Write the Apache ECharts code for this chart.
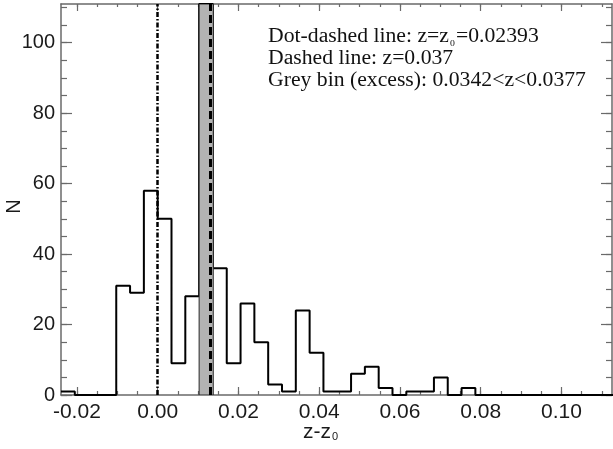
<!DOCTYPE html>
<html>
<head>
<meta charset="utf-8">
<script src="https://cdn.jsdelivr.net/npm/echarts@6/dist/echarts.min.js"></script>
<style>
  html, body { margin: 0; padding: 0; background: #fff; }
  #chart { width: 613px; height: 449px; }
</style>
</head>
<body>
<div id="chart"></div>
<script>
// Reference redshift and marked quantities
const z0 = 0.02393;
const dashedZ = 0.037;
const greyBinZ = [0.0342, 0.0377];

// Histogram: bins of width 0.00342 in z, starting at z = 0
const binStartZ = 0;
const binWidth = 0.00342;
const counts = [1, 0, 0, 0, 31, 29, 58, 50, 9, 28, 111, 36, 9, 26, 15, 3, 1, 24, 12, 1,
                1, 6, 8, 2, 0, 1, 1, 5, 0, 2, 0, 0, 0, 0, 0, 0, 0, 0, 0, 0];

// Axis extents and ticks
const xRange = [-0.02393, 0.1125];
const yRange = [0, 111];
const xMajorTicks = [-0.02, 0.00, 0.02, 0.04, 0.06, 0.08, 0.10];
const xMinorTicks = [-0.02, -0.015, -0.01, -0.005, 0.00, 0.005, 0.01, 0.015, 0.02, 0.025,
                     0.03, 0.035, 0.04, 0.045, 0.05, 0.055, 0.06, 0.065, 0.07, 0.075,
                     0.08, 0.085, 0.09, 0.095, 0.10, 0.105, 0.11];
const yMajorTicks = [0, 20, 40, 60, 80, 100];
const yMinorTicks = [0, 5, 10, 15, 20, 25, 30, 35, 40, 45, 50, 55, 60, 65, 70, 75, 80,
                     85, 90, 95, 100, 105, 110];

// Step outline of the histogram in z - z0
const stepPoints = [];
counts.forEach((c, k) => {
  const lo = binStartZ + k * binWidth - z0;
  const hi = lo + binWidth;
  stepPoints.push([lo, c], [hi, c]);
});
const greyLo = greyBinZ[0] - z0;
const greyHi = greyBinZ[1] - z0;

const frameColor = '#6a6a6a';
const sans = "'Liberation Sans', Arial, sans-serif";
const serif = "'Liberation Serif', 'Times New Roman', serif";

function xAxisOf(position, ticks, len, labels, line) {
  return {
    type: 'value', position, min: xRange[0], max: xRange[1],
    axisLine: { show: line, onZero: false, lineStyle: { color: frameColor, width: 1.5 } },
    axisTick: { show: true, inside: true, length: len, customValues: ticks,
                lineStyle: { color: frameColor, width: 1.2 } },
    axisLabel: { show: labels, customValues: ticks, margin: 7, fontSize: 21,
                 fontFamily: sans, color: '#1a1a1a', formatter: v => v.toFixed(2) },
    splitLine: { show: false }
  };
}
function yAxisOf(position, ticks, len, labels, line) {
  return {
    type: 'value', position, min: yRange[0], max: yRange[1],
    axisLine: { show: line, onZero: false, lineStyle: { color: frameColor, width: 1.5 } },
    axisTick: { show: true, inside: true, length: len, customValues: ticks,
                lineStyle: { color: frameColor, width: 1.2 } },
    axisLabel: { show: labels, customValues: ticks, margin: 6, fontSize: 20,
                 fontFamily: sans, color: '#1a1a1a', formatter: v => String(v) },
    splitLine: { show: false }
  };
}

const chart = echarts.init(document.getElementById('chart'), null, { renderer: 'canvas' });
chart.setOption({
  animation: false,
  backgroundColor: '#fff',
  grid: { left: 61, right: 1, top: 4, bottom: 54, containLabel: false },
  xAxis: [
    xAxisOf('bottom', xMajorTicks, 8, true, true),
    xAxisOf('bottom', xMinorTicks, 4, false, false),
    xAxisOf('top', xMajorTicks, 7, false, true),
    xAxisOf('top', xMinorTicks, 3, false, false)
  ],
  yAxis: [
    yAxisOf('left', yMajorTicks, 11, true, true),
    yAxisOf('left', yMinorTicks, 6, false, false),
    yAxisOf('right', yMajorTicks, 11, false, true),
    yAxisOf('right', yMinorTicks, 6, false, false)
  ],
  series: [
    {
      name: 'N', type: 'line', z: 2, silent: true,
      data: stepPoints, showSymbol: false,
      lineStyle: { color: '#000', width: 2 },
      markLine: {
        silent: true, symbol: 'none', precision: 6, label: { show: false },
        data: [
          { xAxis: 0, lineStyle: { color: '#000', width: 2.5, type: [5, 2, 1.5, 2] } }
        ]
      }
    },
    {
      // excess bin drawn as a grey rectangle over the histogram
      name: 'excess bin', type: 'custom', z: 4, silent: true, clip: true,
      data: [[greyLo, greyHi, counts[10]]],
      renderItem: (params, api) => {
        const p0 = api.coord([api.value(0), 0]);
        const p1 = api.coord([api.value(1), api.value(2)]);
        return {
          type: 'rect',
          shape: { x: p0[0], y: p1[1], width: p1[0] - p0[0], height: p0[1] - p1[1] },
          style: { fill: '#b3b3b3', stroke: '#2a2a2a', lineWidth: 1 }
        };
      },
      markLine: {
        silent: true, symbol: 'none', precision: 6, label: { show: false },
        data: [
          { xAxis: dashedZ - z0, lineStyle: { color: '#000', width: 3, type: [8, 4] } }
        ]
      }
    }
  ],
  graphic: [
    {
      type: 'text', x: 268, y: 26, scaleX: 1.085, silent: true,
      style: {
        text: 'Dot-dashed line: z=z{sub|0}=0.02393\nDashed line: z=0.037\nGrey bin (excess): 0.0342<z<0.0377',
        font: '20px ' + serif, fill: '#111', lineHeight: 22,
        rich: { sub: { fontSize: 9, fontFamily: serif, verticalAlign: 'bottom', padding: [0, 1, 0, 1] } }
      }
    },
    {
      type: 'text', x: 303, y: 432, silent: true,
      style: {
        text: 'z-z{sub|0}', font: '21px ' + sans, fill: '#1a1a1a', verticalAlign: 'middle',
        rich: { sub: { fontSize: 11, fontFamily: sans, verticalAlign: 'bottom', padding: [0, 0, 0, 1] } }
      }
    },
    {
      type: 'text', x: 14.5, y: 206.5, rotation: Math.PI / 2, silent: true,
      style: { text: 'N', font: '20px ' + sans, fill: '#1a1a1a', align: 'center', verticalAlign: 'middle' }
    }
  ]
});
</script>
</body>
</html>
